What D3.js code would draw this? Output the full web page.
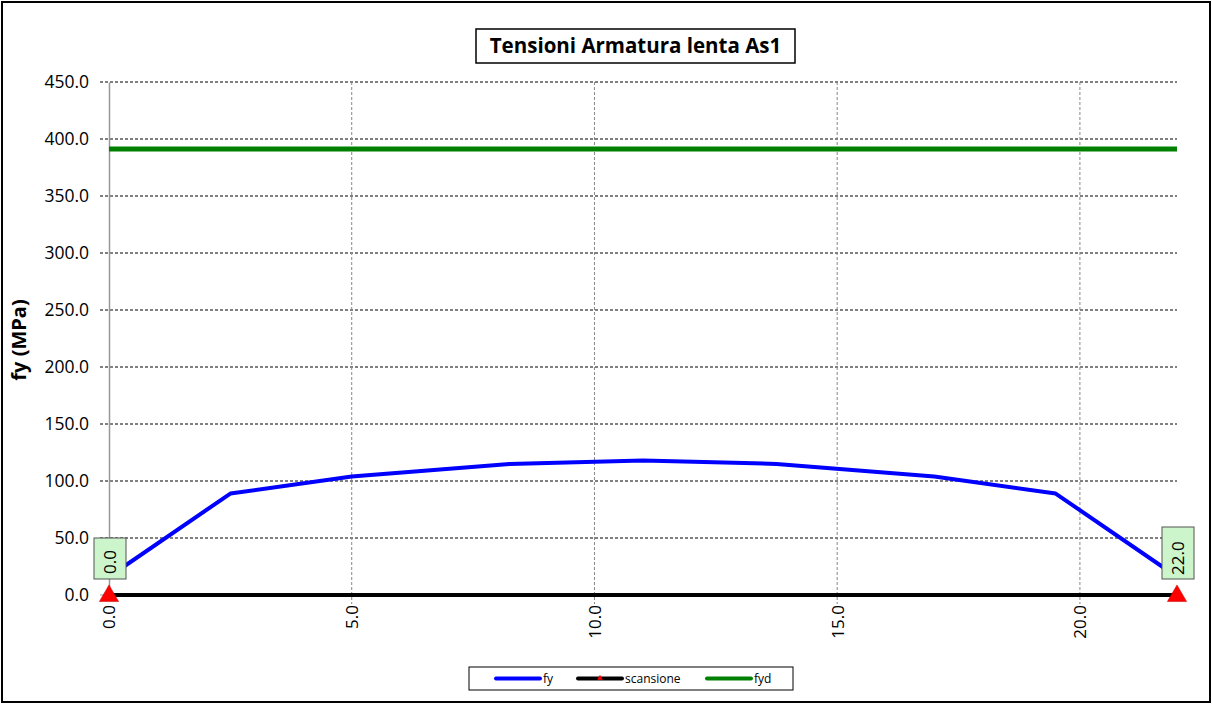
<!DOCTYPE html>
<html><head><meta charset="utf-8">
<script src="https://cdn.jsdelivr.net/npm/d3@7"></script>
<style>body{margin:0;background:#fff}svg{display:block;font-family:"Open Sans",Arial,sans-serif}</style>
</head><body>
<script>
const fyX = [0, 2.5, 5, 8.25, 11, 13.75, 17, 19.5, 22];
const fyVals = [16, 89, 104, 115, 118, 115, 104, 89, 16];
const scanX = [0, 22];
const scanVals = [0, 0];
const scanLabels = ["0.0", "22.0"];
const fydX = [0, 22];
const fydVals = [391.3, 391.3];
const yTicks = [0, 50, 100, 150, 200, 250, 300, 350, 400, 450];
const xTicks = [0, 5, 10, 15, 20];
const title = "Tensioni Armatura lenta As1";
const yTitle = "fy (MPa)";
const legendNames = ["fy", "scansione", "fyd"];

const FONT = "'Open Sans',Arial,sans-serif";
const W = 1212, H = 704;
const svg = d3.select("body").append("svg").attr("width", W).attr("height", H);
svg.append("rect").attr("x", 2).attr("y", 2).attr("width", W - 4).attr("height", H - 4)
  .attr("fill", "#fff").attr("stroke", "#000").attr("stroke-width", 2);

const x = d3.scaleLinear().domain([0, 22]).range([109, 1177]);
const y = d3.scaleLinear().domain([0, 450]).range([595, 82]);

// horizontal grid
svg.append("g").selectAll("line").data(yTicks.slice(1)).join("line")
  .attr("x1", 100).attr("x2", 1177).attr("y1", d => y(d)).attr("y2", d => y(d))
  .attr("stroke", "#000").attr("stroke-width", 1).attr("stroke-dasharray", "3,2");
// vertical grid
svg.append("g").selectAll("line").data(xTicks.slice(1)).join("line")
  .attr("x1", d => x(d)).attr("x2", d => x(d)).attr("y1", 82).attr("y2", 604)
  .attr("stroke", "#888").attr("stroke-width", 1).attr("stroke-dasharray", "3,2");
// y axis
const yAxis = d3.axisLeft(y).tickValues(yTicks).tickFormat(d3.format(".1f")).tickSize(0).tickPadding(20);
const ya = svg.append("g").attr("transform", "translate(109,0)").call(yAxis);
ya.select(".domain").attr("stroke", "#999").attr("stroke-width", 1.5);
ya.selectAll("text").attr("font-size", 17.5).attr("fill", "#000").attr("font-family", FONT);
svg.append("line").attr("x1", 100).attr("x2", 109).attr("y1", y(0)).attr("y2", y(0)).attr("stroke", "#999");
// x axis
const xAxis = d3.axisBottom(x).tickValues(xTicks).tickFormat(d3.format(".1f")).tickSize(0);
const xa = svg.append("g").attr("transform", "translate(0,595)").call(xAxis);
xa.select(".domain").remove();
xa.selectAll("text").attr("font-size", 17).attr("fill", "#000")
  .attr("font-family", FONT)
  .attr("transform", "rotate(-90)").attr("text-anchor", "end")
  .attr("x", -10).attr("y", 0).attr("dy", "0.35em");

// y title
svg.append("text").attr("transform", "translate(19,340) rotate(-90)")
  .attr("text-anchor", "middle").attr("dy", "0.35em").attr("font-size", 20).attr("font-weight", "bold").text(yTitle);

const line = d3.line().x(d => x(d[0])).y(d => y(d[1]));
// fyd
svg.append("path").datum(fydX.map((v, i) => [v, fydVals[i]])).attr("d", line)
  .attr("fill", "none").attr("stroke", "#008000").attr("stroke-width", 5);
// scansione
svg.append("path").datum(scanX.map((v, i) => [v, scanVals[i]])).attr("d", line)
  .attr("fill", "none").attr("stroke", "#000").attr("stroke-width", 4);
// fy
svg.append("path").datum(fyX.map((v, i) => [v, fyVals[i]])).attr("d", line)
  .attr("fill", "none").attr("stroke", "#0000FF").attr("stroke-width", 4).attr("stroke-linejoin", "round");
// triangles
const tri = d3.symbol().type(d3.symbolTriangle).size(160);
svg.append("g").selectAll("path").data(scanX).join("path")
  .attr("d", tri).attr("transform", (d, i) => `translate(${x(d)},${y(scanVals[i]) + 1})`)
  .attr("fill", "#ff0000").attr("stroke", "#c00000").attr("stroke-width", 0.5);
// labels
const lg = svg.append("g").selectAll("g").data(scanX).join("g")
  .attr("transform", (d, i) => `translate(${x(d) + 1},${y(scanVals[i]) - 16}) rotate(-90)`);
lg.append("rect").attr("x", 0).attr("y", -16)
  .attr("width", (d, i) => i ? 52 : 41).attr("height", 32)
  .attr("fill", "#ccf5cc").attr("stroke", "#555").attr("stroke-width", 1);
lg.append("text").attr("x", (d, i) => i ? 4 : 5).attr("y", 0).attr("dy", "0.35em").attr("font-size", 17)
  .attr("font-family", FONT).text((d, i) => scanLabels[i]);

// title
const tg = svg.append("g");
tg.append("rect").attr("x", 476).attr("y", 29).attr("width", 319).attr("height", 34)
  .attr("fill", "#fff").attr("stroke", "#000").attr("stroke-width", 1.5);
tg.append("text").attr("x", 635.5).attr("y", 46).attr("dy", "0.35em").attr("text-anchor", "middle")
  .attr("font-size", 20.5).attr("font-weight", "bold").text(title);

// legend
const leg = svg.append("g");
leg.append("rect").attr("x", 469).attr("y", 667).attr("width", 324).attr("height", 23)
  .attr("fill", "#fff").attr("stroke", "#000").attr("stroke-width", 1);
const legCols = ["#0000FF", "#000", "#008000"];
const legX = [496, 578, 707];
legendNames.forEach((n, i) => {
  leg.append("line").attr("x1", legX[i]).attr("x2", legX[i] + 44).attr("y1", 678.5).attr("y2", 678.5)
    .attr("stroke", legCols[i]).attr("stroke-width", 4).attr("stroke-linecap", "round");
  if (i === 1) leg.append("path").attr("d", d3.symbol().type(d3.symbolTriangle).size(14))
    .attr("transform", `translate(${legX[i] + 22},678)`).attr("fill", "#f00");
  leg.append("text").attr("x", legX[i] + 47).attr("y", 679).attr("dy", "0.35em")
    .attr("font-size", 12).text(n);
});
</script>
</body></html>
